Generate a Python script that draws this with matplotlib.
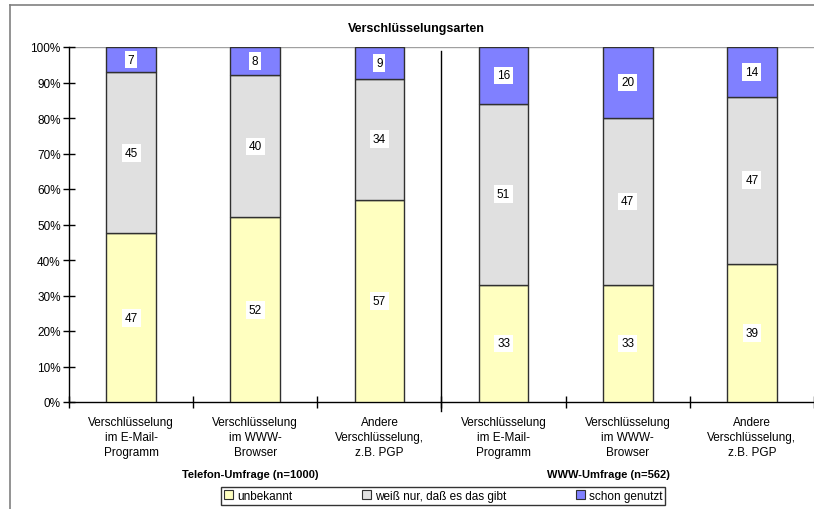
import matplotlib
matplotlib.use("Agg")
import matplotlib.pyplot as plt
import numpy as np
from matplotlib.patches import Patch
from matplotlib.lines import Line2D

plt.rcParams['font.family'] = ['Liberation Sans', 'DejaVu Sans']

categories = ["Verschlüsselung\nim E-Mail-\nProgramm",
              "Verschlüsselung\nim WWW-\nBrowser",
              "Andere\nVerschlüsselung,\nz.B. PGP",
              "Verschlüsselung\nim E-Mail-\nProgramm",
              "Verschlüsselung\nim WWW-\nBrowser",
              "Andere\nVerschlüsselung,\nz.B. PGP"]
unbekannt = [47, 52, 57, 33, 33, 39]
weiss_nur = [45, 40, 34, 51, 47, 47]
schon_genutzt = [7, 8, 9, 16, 20, 14]
series_names = ["unbekannt", "weiß nur, daß es das gibt", "schon genutzt"]
group_labels = ["Telefon-Umfrage (n=1000)", "WWW-Umfrage (n=562)"]
title = "Verschlüsselungsarten"

colors = ["#FFFFC0", "#E0E0E0", "#8080FF"]

fig = plt.figure(figsize=(8.14, 5.10), dpi=100)
ax = fig.add_axes([69/814, 1-403/510, 745/814, 355/510])

series = [np.array(unbekannt, float), np.array(weiss_nur, float), np.array(schon_genutzt, float)]
totals = sum(series)
x = np.arange(len(categories))
bottom = np.zeros(len(categories))
for vals, col in zip(series, colors):
    frac = vals / totals * 100
    ax.bar(x, frac, bottom=bottom, width=0.4, color=col, edgecolor="#303030", linewidth=1.0, zorder=3)
    for xi, b, f, v in zip(x, bottom, frac, vals):
        ax.text(xi, b + f/2, f"{int(v)}", ha="center", va="center", fontsize=8.5, zorder=5,
                bbox=dict(facecolor="white", edgecolor="none", pad=2.0))
    bottom += frac

ax.set_xlim(-0.5, len(categories) - 0.5)
ax.set_ylim(0, 100)
ax.set_yticks(np.arange(0, 101, 10))
ax.set_yticklabels([f"{v}%" for v in range(0, 101, 10)], fontsize=8.5)
ax.set_xticks(x)
ax.set_xticklabels(categories, fontsize=8.5, linespacing=1.35)
ax.tick_params(axis='x', which='major', length=0, pad=10)
ax.set_xticks(np.arange(-0.5, len(categories), 1.0), minor=True)
ax.tick_params(axis='x', which='minor', length=8, direction='inout', width=1)
ax.tick_params(axis='y', length=8, direction='inout', width=1, pad=2)

for s in ['top', 'right']:
    ax.spines[s].set_visible(False)
ax.spines['left'].set_linewidth(1)
ax.spines['bottom'].set_linewidth(1)
ax.axhline(100, color="#A0A0A0", linewidth=1, zorder=1)

# separator between groups
sep = Line2D([2.5, 2.5], [-0.025, 0.989], transform=ax.get_xaxis_transform(),
             color="black", linewidth=1, clip_on=False)
ax.add_line(sep)

fig.text(416/814, 1-29/510, title, ha="center", va="center", fontsize=9, fontweight="bold")
fig.text(250/814, 1-475/510, group_labels[0], ha="center", va="center", fontsize=8, fontweight="bold")
fig.text(608/814, 1-475/510, group_labels[1], ha="center", va="center", fontsize=8, fontweight="bold")

handles = [Patch(facecolor=c, edgecolor="#303030", linewidth=0.8) for c in colors]
leg = fig.legend(handles, series_names, loc="center", bbox_to_anchor=(443/814, 1-497/510),
                 ncol=3, fontsize=8.5, frameon=True, fancybox=False, edgecolor="black",
                 handlelength=0.8, handleheight=0.8, handletextpad=0.3, columnspacing=5.9,
                 borderpad=0.25)
leg.get_frame().set_linewidth(1)

# figure border (top and left)
fig.add_artist(Line2D([9.5/814, 9.5/814], [0, 1-5.5/510], transform=fig.transFigure, color="#808080", linewidth=1.2))
fig.add_artist(Line2D([9.5/814, 1], [1-5.5/510, 1-5.5/510], transform=fig.transFigure, color="#808080", linewidth=1.2))

fig.savefig("out.png", dpi=100)
